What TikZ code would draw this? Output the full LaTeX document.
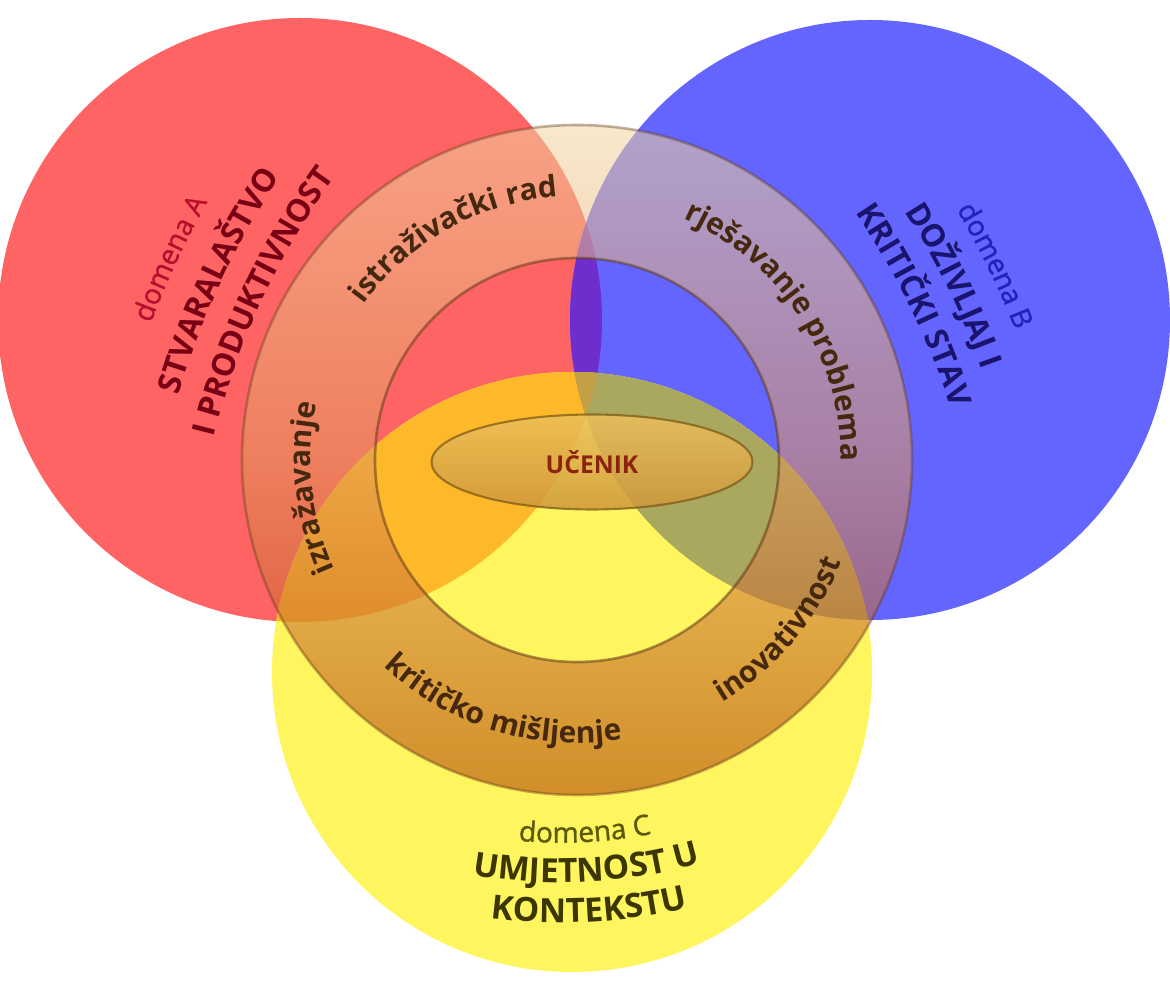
\documentclass[tikz,border=0pt]{standalone}
\usepackage{fontspec}
\setmainfont{Open Sans}
\newfontfamily\medfam[FakeBold=1.2]{Open Sans}
\usetikzlibrary{shapes.geometric,decorations.text}

\definecolor{domA}{RGB}{255,100,100}
\definecolor{domB}{RGB}{100,100,255}
\definecolor{domC}{RGB}{255,245,95}
\definecolor{domAB}{RGB}{110,45,205}
\definecolor{domAC}{RGB}{253,185,42}
\definecolor{domBC}{RGB}{170,168,94}
\definecolor{domABC}{RGB}{195,160,70}
\definecolor{ringtop}{RGB}{242,213,162}
\definecolor{ringmid}{RGB}{225,150,90}
\definecolor{ringbot}{RGB}{172,58,0}
\definecolor{ringedge}{RGB}{100,60,25}
\definecolor{ringtxt}{RGB}{70,40,15}
\definecolor{txtA}{RGB}{185,15,45}
\definecolor{titA}{RGB}{120,0,20}
\definecolor{txtB}{RGB}{35,35,185}
\definecolor{titB}{RGB}{25,20,110}
\definecolor{txtC}{RGB}{90,90,10}
\definecolor{titC}{RGB}{60,55,0}
\definecolor{uctop}{RGB}{236,192,92}
\definecolor{ucbot}{RGB}{205,150,58}
\definecolor{ucedge}{RGB}{120,85,20}
\definecolor{uctxt}{RGB}{140,35,15}

\newcommand\ringfont{\fontsize{17}{17}\selectfont\bfseries\color{ringtxt}}
\newcommand\domfont{\fontsize{16}{16}\selectfont\medfam}
\newcommand\titfont{\fontsize{18}{18}\selectfont\bfseries}

\tikzset{%
        arc label/.style 2 args={
            decorate,
            decoration={text along path, text align=center, text={|#1|#2}}
        },
        ring label/.style={
            arc label={\ringfont}{#1}
        },
        ring edge/.style={
            draw=ringedge,
            line width=1.5pt
        },
    }

\begin{document}
\begin{tikzpicture}[x=0.02cm, y=0.02cm]
        \useasboundingbox (0,0) rectangle (1170,984);

        \coordinate (A) at (300,664);
        \coordinate (B) at (870,664);
        \coordinate (C) at (572,312);
        \coordinate (ring) at (577,524);

        % domains
        \fill [domA] (A) circle [radius=302];
        \fill [domB] (B) circle [radius=300];
        \begin{scope}
            \clip (A) circle [radius=302];
            \fill [domAB] (B) circle [radius=300];
        \end{scope}
        \fill [domC] (C) circle [radius=300];
        \begin{scope}
            \clip (C) circle [radius=300];
            \fill [domAC] (A) circle [radius=302];
            \fill [domBC] (B) circle [radius=300];
            \clip (A) circle [radius=302];
            \fill [domABC] (B) circle [radius=300];
        \end{scope}

        % ring
        \shade [top color=ringtop, bottom color=ringbot, middle color=ringmid,
            fill opacity=0.55, even odd rule]
            (ring) circle [radius=335] (ring) circle [radius=202];
        \draw [ring edge, opacity=0.4] (ring) circle [radius=335];
        \draw [ring edge, opacity=0.55] (ring) circle [radius=202];

        \node [ellipse, minimum width=6.42cm, minimum height=1.9cm, inner sep=0pt,
            top color=uctop, bottom color=ucbot, fill opacity=0.85, text opacity=1,
            draw=ucedge, draw opacity=0.7, line width=1.2pt, text=uctxt,
            font=\fontsize{14}{14}\selectfont\bfseries] (ucenik) at (592,522) {UČENIK};

        % ring labels
        \path [ring label={istraživački rad}]
            ([shift={(ring)}]189:264) arc [start angle=189, end angle=49, radius=264];
        \path [ring label={rješavanje problema}]
            ([shift={(ring)}]108:264) arc [start angle=108, end angle=-42, radius=264];
        \path [ring label={izražavanje}]
            ([shift={(ring)}]256:266) arc [start angle=256, end angle=116, radius=266];
        \path [ring label={kritičko mišljenje}]
            ([shift={(ring)}]173:283) arc [start angle=173, end angle=333, radius=283];
        \path [ring label={inovativnost}]
            ([shift={(ring)}]250:283) arc [start angle=250, end angle=390, radius=283];

        % domena A
        \begin{scope}[shift={(212,706)}, rotate=65]
            \path [arc label={\domfont\color{txtA}}{domena A}]
                ([shift={(0,-800)}]112:839) arc [start angle=112, end angle=68, radius=839];
            \foreach \r/\t in {790/STVARALAŠTVO, 745/I PRODUKTIVNOST}
                \path [arc label={\titfont\color{titA}}{\t}]
                    ([shift={(0,-800)}]112:\r) arc [start angle=112, end angle=68, radius=\r];
        \end{scope}

        % domena B
        \begin{scope}[shift={(957,700)}, rotate=-64]
            \path [arc label={\domfont\color{txtB}}{domena B}]
                ([shift={(0,-800)}]112:835) arc [start angle=112, end angle=68, radius=835];
            \foreach \r/\t in {790/DOŽIVLJAJ I, 748/KRITIČKI STAV}
                \path [arc label={\titfont\color{titB}}{\t}]
                    ([shift={(0,-800)}]112:\r) arc [start angle=112, end angle=68, radius=\r];
        \end{scope}

        % domena C
        \begin{scope}[shift={(587,112)}, rotate=3]
            \path [arc label={\domfont\color{txtC}}{domena C}]
                ([shift={(0,500)}]240:470) arc [start angle=240, end angle=300, radius=470];
            \foreach \r/\t in {510/UMJETNOST U, 550/KONTEKSTU}
                \path [arc label={\fontsize{19}{19}\selectfont\bfseries\color{titC}}{\t}]
                    ([shift={(0,500)}]240:\r) arc [start angle=240, end angle=300, radius=\r];
        \end{scope}
\end{tikzpicture}
\end{document}
